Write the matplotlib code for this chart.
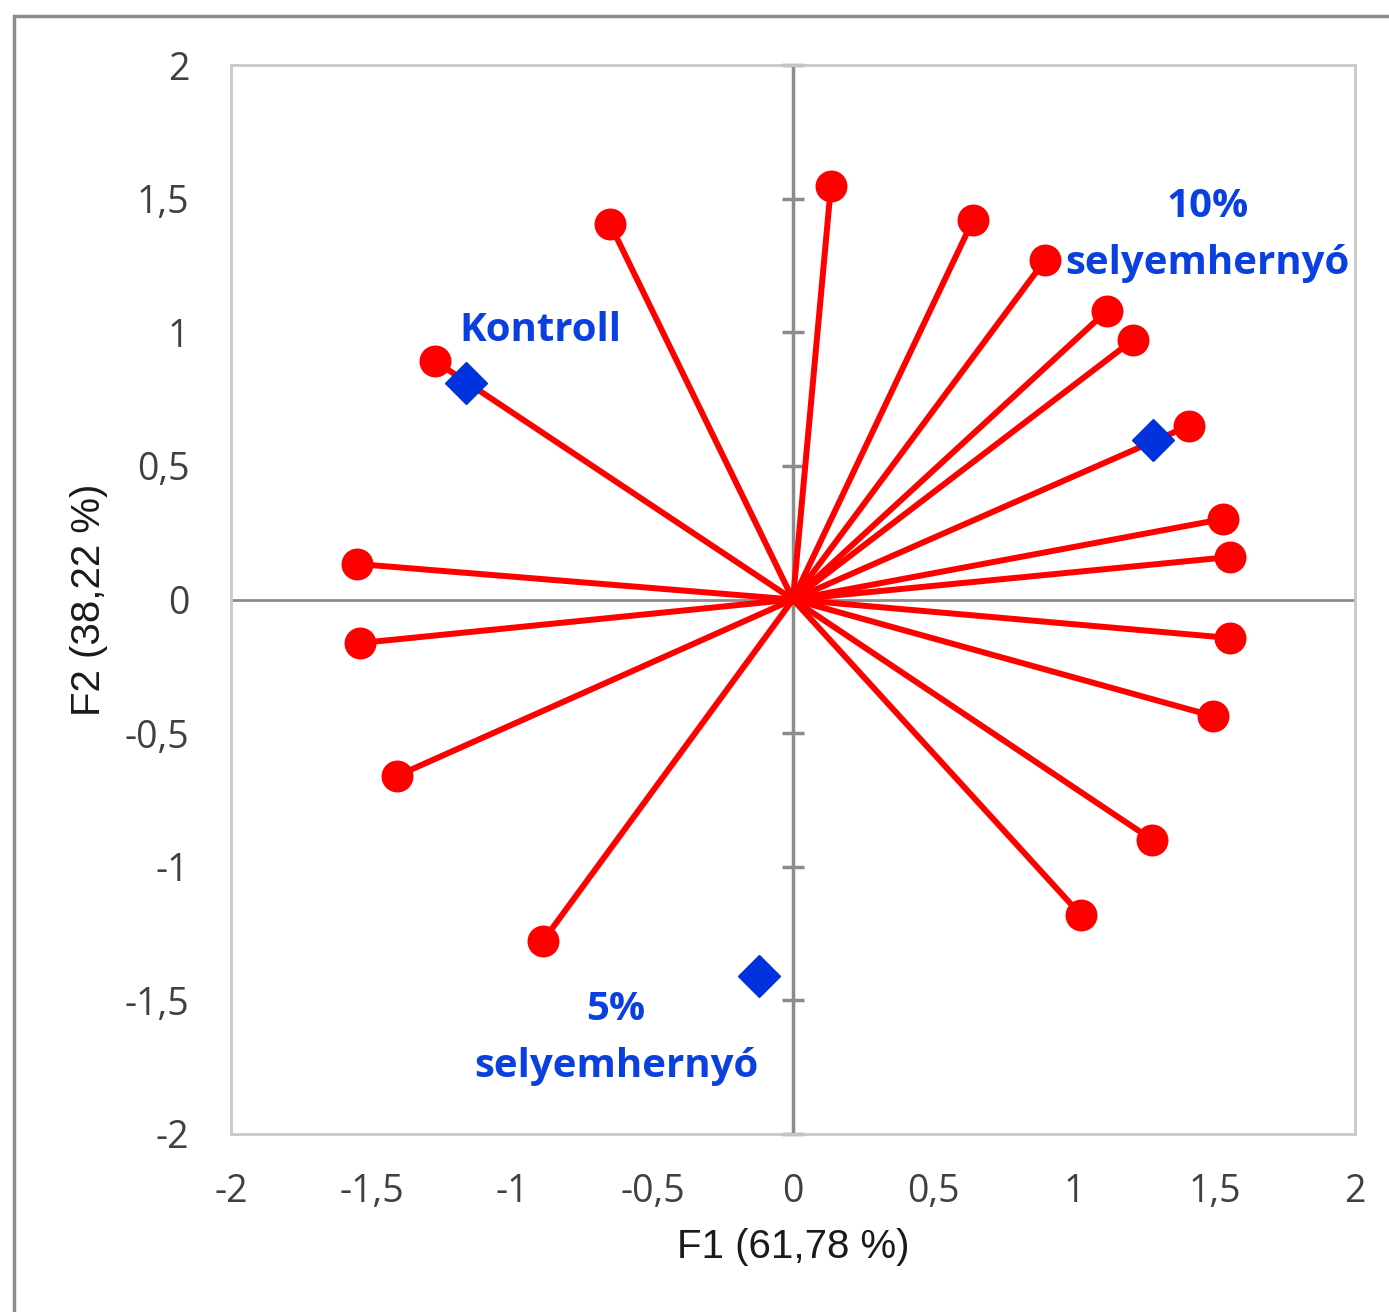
import numpy as np
import matplotlib.pyplot as plt
from matplotlib.patches import Rectangle

# variable loadings (red) and treatment scores (blue)
var_f1 = [0.135, -0.651, 0.641, 0.897, 1.117, 1.210, 1.409, 1.530, 1.555,
          1.555, 1.495, 1.278, 1.025, -0.890, -1.409, -1.541, -1.552, -1.274]
var_f2 = [1.547, 1.405, 1.420, 1.270, 1.080, 0.971, 0.650, 0.301, 0.159,
          -0.144, -0.436, -0.899, -1.181, -1.278, -0.660, -0.163, 0.133, 0.892]

obs_names = ['Kontroll', '10%\nselyemhernyó', '5%\nselyemhernyó']
obs_f1 = [-1.164, 1.281, -0.121]
obs_f2 = [0.810, 0.597, -1.409]

ticks = [-2, -1.5, -1, -0.5, 0, 0.5, 1, 1.5, 2]
tick_labels = ['-2', '-1,5', '-1', '-0,5', '0', '0,5', '1', '1,5', '2']

W, H = 1389, 1312
fig = plt.figure(figsize=(W / 100, H / 100), dpi=100)
fig.patches.append(Rectangle((14 / W, -0.1), 1.2, 1 - 16 / H + 0.1, transform=fig.transFigure,
                             fill=False, edgecolor='#8c8c8c', linewidth=2.5))

ax = fig.add_axes([231 / W, 1 - 1134 / H, (1355 - 231) / W, (1134 - 65) / H])
ax.set_xlim(-2, 2)
ax.set_ylim(-2, 2)
for s in ax.spines.values():
    s.set_color('#c8c8c8')
    s.set_linewidth(2)

ax.axhline(0, color='#8c8c8c', lw=2, zorder=1)
ax.axvline(0, color='#8c8c8c', lw=2.5, zorder=1)
# ticks crossing the vertical zero axis
for t in ticks:
    ax.plot([-0.04, 0.04], [t, t], color='#8c8c8c', lw=2.5, zorder=1, clip_on=False,
            solid_capstyle='butt')

ax.set_xticks(ticks)
ax.set_xticklabels(tick_labels)
ax.set_yticks(ticks)
ax.set_yticklabels(tick_labels)
ax.tick_params(length=0, labelsize=27, labelcolor='#404040')
for lab in ax.get_xticklabels() + ax.get_yticklabels():
    lab.set_fontfamily('Open Sans')
ax.tick_params(axis='x', pad=28)
ax.tick_params(axis='y', pad=30)

for x, y in zip(var_f1, var_f2):
    ax.plot([0, x], [0, y], color='#ff0000', lw=4.3, zorder=2, solid_capstyle='round')
ax.plot(var_f1, var_f2, 'o', color='#ff0000', markersize=22, zorder=3)
ax.plot(obs_f1, obs_f2, 'D', color='#0033dd', markersize=21, zorder=4)

lab_pos = [(-0.900, 1.005), (1.475, 1.364), (-0.630, -1.639)]
for name, (lx, ly) in zip(obs_names, lab_pos):
    ax.text(lx, ly, name, color='#0a40e0', fontsize=29, fontweight='bold',
            family='Open Sans', ha='center', va='center', linespacing=1.6)

ax.set_xlabel('F1 (61,78 %)', fontsize=29, family='Liberation Sans', color='#1a1a1a', labelpad=12)
ax.set_ylabel('F2 (38,22 %)', fontsize=29, family='Liberation Sans', color='#1a1a1a', labelpad=12)

fig.savefig('out.png', dpi=100)
